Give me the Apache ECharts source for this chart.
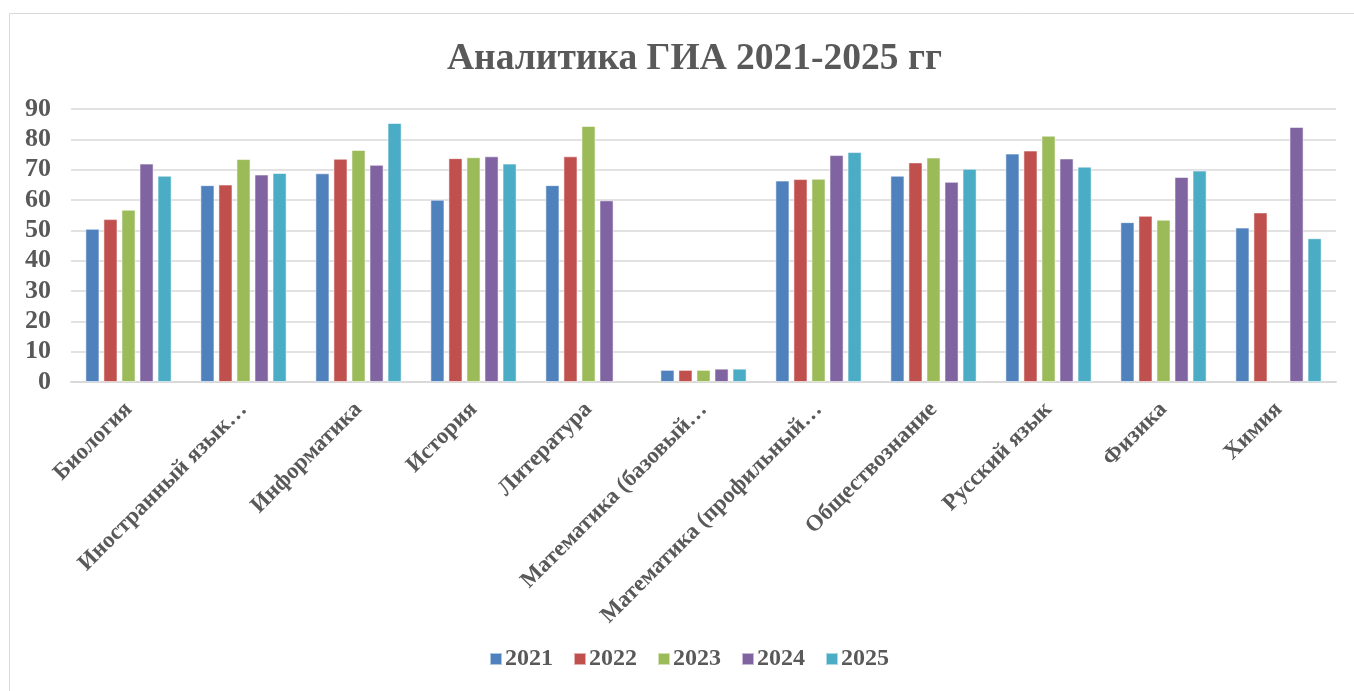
<!DOCTYPE html>
<html>
<head>
<meta charset="utf-8">
<script src="https://cdn.jsdelivr.net/npm/echarts@6/dist/echarts.min.js"></script>
<style>
html,body{margin:0;padding:0;background:#fff;}
#chart{width:1354px;height:691px;}
</style>
</head>
<body>
<div id="chart"></div>
<script>
const categories = ['Биология','Иностранный язык…','Информатика','История','Литература','Математика (базовый…','Математика (профильный…','Обществознание','Русский язык','Физика','Химия'];
const years = ['2021','2022','2023','2024','2025'];
const s2021 = [50.5, 64.9, 68.8, 60.1, 64.9, 4.0, 66.4, 68.0, 75.3, 52.7, 50.9];
const s2022 = [53.7, 65.1, 73.6, 73.8, 74.4, 4.0, 66.9, 72.4, 76.3, 54.8, 55.9];
const s2023 = [56.8, 73.5, 76.5, 74.1, 84.4, 4.0, 67.0, 74.0, 81.2, 53.5, null];
const s2024 = [72.0, 68.4, 71.6, 74.4, 59.9, 4.4, 74.8, 66.0, 73.7, 67.6, 84.1];
const s2025 = [68.0, 68.9, 85.4, 72.0, null, 4.4, 75.8, 70.3, 71.0, 69.7, 47.4];
const yTicks = [0,10,20,30,40,50,60,70,80,90];

const seriesData = [s2021, s2022, s2023, s2024, s2025];
const colors = ['#4F81BD','#C0504D','#9BBB59','#8064A2','#4BACC6'];
const font = '"Liberation Serif","Times New Roman",serif';

const chart = echarts.init(document.getElementById('chart'));
chart.setOption({
  animation: false,
  backgroundColor: '#fff',
  graphic: [{
    type: 'rect', shape: {x: 9.5, y: 13.5, width: 1360, height: 700},
    style: {fill: 'none', stroke: '#d9d9d9', lineWidth: 1}, silent: true, z: -1
  }],
  title: {
    text: 'Аналитика ГИА 2021-2025 гг',
    left: 442, top: 35,
    textStyle: {fontFamily: font, fontSize: 37.5, fontWeight: 'bold', color: '#595959'}
  },
  legend: {
    data: years, bottom: 15, left: 484,
    itemWidth: 12, itemHeight: 12, itemGap: 20, icon: 'rect',
    textStyle: {fontFamily: font, fontSize: 24, fontWeight: 'bold', color: '#595959', padding: [0,0,0,-2]}
  },
  grid: {left: 71, right: 18, top: 109, bottom: 309, containLabel: false},
  xAxis: {
    type: 'category', data: categories,
    axisLine: {lineStyle: {color: '#d9d9d9', width: 2}},
    axisTick: {show: false},
    axisLabel: {rotate: 45, interval: 0, margin: 24, fontFamily: font, fontSize: 23, fontWeight: 'bold', color: '#595959'}
  },
  yAxis: {
    type: 'value', min: 0, max: 90, interval: 10,
    axisLine: {show: false}, axisTick: {show: false},
    splitLine: {lineStyle: {color: '#d9d9d9', width: 1.5}},
    axisLabel: {margin: 20, fontFamily: font, fontSize: 26, fontWeight: 'bold', color: '#595959',
      formatter: v => yTicks.includes(v) ? String(v) : ''}
  },
  series: seriesData.map((d, i) => ({
    name: years[i], type: 'bar', data: d,
    barGap: '28%', barCategoryGap: '25%',
    itemStyle: {color: colors[i], borderColor: 'rgba(255,255,255,0.55)', borderWidth: 1}
  }))
});
</script>
</body>
</html>
